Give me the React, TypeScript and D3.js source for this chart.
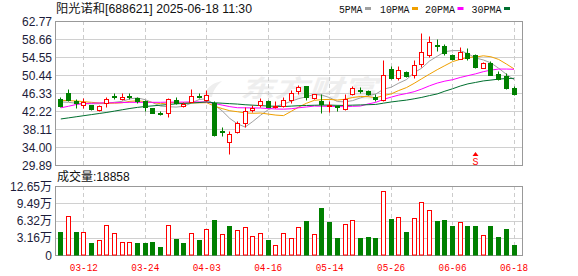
import React from 'react';
import * as d3 from 'd3';

const W = 578;
const H = 276;

const opens = [45.0,46.3,44.4,43.69,43.53,42.47,44.08,45.55,44.91,45.7, 45.14,44.45,43.0,41.8,41.85,44.84,43.4,44.31,45.7,44.77, 44.08,37.6,35.25,37.48,39.39,42.54,43.62,44.61,43.1,43.46, 44.84,46.84,47.83,45.23,44.61,43.3,43.25,42.66,45.99,47.1, 46.84,45.5,44.77,51.9,49.83,51.05,50.52,53.05,55.12,57.3, 57.09,55.12,54.1,55.35,54.95,52.13,53.2,50.66,50.2,47.53];
const closes = [43.3,44.84,44.0,44.38,42.77,43.46,45.07,45.4,45.46,45.6, 44.45,43.07,41.85,41.65,45.0,43.99,43.9,45.69,45.6,45.92, 36.63,37.5,36.95,39.39,42.31,43.0,44.61,43.23,43.3,44.77, 46.38,47.6,45.37,45.99,43.92,43.5,43.15,44.95,47.44,47.0, 46.15,44.9,50.36,49.83,51.67,50.2,52.82,55.58,57.87,57.1, 55.48,54.03,55.58,54.33,52.2,53.28,50.52,49.6,47.44,45.99];
const highs = [45.5,47.14,45.07,45.23,43.69,43.6,45.53,46.38,46.29,46.4, 45.4,44.8,43.0,42.3,45.2,45.46,44.3,47.14,46.3,47.07, 44.45,38.63,37.71,40.01,43.07,43.6,45.1,44.8,44.61,45.5, 46.91,48.13,47.9,46.2,46.15,44.61,43.7,46.2,47.83,47.6, 47.1,46.0,53.8,52.5,52.4,51.3,53.87,60.01,59.25,58.56, 57.5,55.3,56.79,56.5,55.2,53.4,53.6,51.35,50.8,47.83];
const lows = [43.1,44.6,43.0,42.93,42.47,42.3,43.23,44.85,44.84,45.0, 44.0,42.2,41.7,41.3,40.77,43.9,43.2,44.2,45.2,44.6, 36.5,36.49,32.49,37.3,38.63,42.0,43.07,43.1,42.8,43.2, 44.08,46.15,44.77,44.9,41.69,41.92,42.3,42.5,45.9,46.3, 45.8,44.5,44.6,49.5,49.2,50.0,49.73,52.27,54.6,55.87, 54.95,53.9,54.0,53.8,52.1,52.0,50.4,49.4,47.3,45.8];
// volume in 万
const volumes = [4.2,7.1,4.2,4.15,2.2,2.7,5.45,4.0,2.3,2.3, 2.2,2.2,2.4,1.47,5.45,2.9,2.2,4.0,2.75,4.7, 6.4,3.8,5.3,4.5,5.1,3.4,4.0,2.75,1.8,4.0, 3.2,5.1,6.2,3.8,8.6,6.05,3.1,5.6,6.35,3.1, 3.3,3.1,11.7,6.6,6.9,4.2,6.7,9.65,8.2,6.2, 6.4,5.3,6.0,5.3,5.3,3.6,5.3,3.3,4.75,1.89];
const prevClose0 = 44.0;

// moving-average values before enough bars exist
const ma5Lead = [44.3, 44.2, 44.0, 43.9];
const ma10Lead = [44.65, 44.6, 44.5, 44.35, 44.2, 44.05, 44.0, 44.0, 44.1];
const ma20Lead = [42.95, 43.3, 43.7, 43.9, 44.0, 44.05, 44.1, 44.1, 44.15, 44.2, 44.2, 44.2, 44.2, 44.2, 44.25, 44.25, 44.25, 44.3, 44.3];
const ma30Lead = [40.4, 40.65, 40.9, 41.15, 41.4, 41.65, 41.9, 42.2, 42.5, 42.8, 43.05, 43.25, 43.4, 43.55, 43.7, 43.85, 43.95, 44.05, 44.15, 44.3, 44.1, 44.0, 43.9, 43.8, 43.65, 43.55, 43.45, 43.35, 43.3];

const priceTicks = [62.77, 58.66, 54.55, 50.44, 46.33, 42.22, 38.11, 34.0, 29.89];
const volTicks = [0, 3.16, 6.32, 9.49, 12.65];
const volTickLabels = ['0', '3.16万', '6.32万', '9.49万', '12.65万'];
const dateLabels = ['03-12', '03-24', '04-03', '04-16', '05-14', '05-26', '06-06', '06-18'];
const dateLabelIdx = [3, 11, 19, 27, 35, 43, 51, 59];
const maNames = ['5PMA', '10PMA', '20PMA', '30PMA'];
const maColors = ['#a0a0a0', '#f0a000', '#ff00ff', '#006f2f'];
const signalIdx = 54;
const title = '阳光诺和[688621] 2025-06-18 11:30';
const volTitle = '成交量:18858';
const watermark = '东方财富';

const RED = '#ff0000';
const GREEN = '#008000';

function movingAvg(n: number, lead: number[]) {
  return closes.map((c, i) => (i < n - 1 ? lead[i] : (d3.mean(closes.slice(i - n + 1, i + 1)) as number)));
}

export default function App() {
  const L = 55, R = 522;
  const x = d3.scaleLinear().domain([0, closes.length - 1]).range([60.3, 513.5]);
  const y = d3.scaleLinear().domain([29.89, 62.77]).range([165, 21]);
  const yv = d3.scaleLinear().domain([0, 12.65]).range([255, 186]);
  const px = (i: number) => Math.round(x(i));
  const py = (v: number) => Math.round(y(v)) + 0.5;

  const mas = [movingAvg(5, ma5Lead), movingAvg(10, ma10Lead), movingAvg(20, ma20Lead), movingAvg(30, ma30Lead)];
  const line = d3.line<number>().x((d, i) => x(i) + 0.5).y((d) => y(d));

  const sans = '"Liberation Sans", Arial, "Noto Sans CJK SC", sans-serif';
  const mono = '"Liberation Mono", "DejaVu Sans Mono", monospace';

  const legendX = [339, 380, 425, 471.5];
  const legendW = [23.5, 29.5, 30, 30];

  return (
    <div>
      <style>{'body{margin:0}'}</style>
      <svg width={W} height={H} style={{ display: 'block', background: '#fff' }}>
        {/* watermark */}
        <g fill="#eeeeee">
          <path d="M203,97 C206,88 212,83 222,81 C216,86 213,91 212,97 Z" />
          <text x={240} y={97} fontSize={24} fontWeight="bold" fontStyle="italic" fontFamily='"Noto Sans CJK SC", sans-serif' textLength={137} lengthAdjust="spacingAndGlyphs">{watermark}</text>
        </g>

        {/* price grid */}
        {priceTicks.map((t, k) => (
          <line key={'pg' + k} x1={L} x2={R} y1={py(t)} y2={py(t)} stroke="#d0d0d0" strokeWidth={1} />
        ))}
        {dateLabelIdx.map((d, k) => (
          <line key={'pv' + k} x1={px(d) + 0.5} x2={px(d) + 0.5} y1={21} y2={165} stroke="#cccccc" strokeDasharray="4,3" />
        ))}
        {/* volume grid */}
        {volTicks.map((t, k) => (
          <line key={'vg' + k} x1={L} x2={R} y1={Math.round(yv(t)) + 0.5} y2={Math.round(yv(t)) + 0.5} stroke="#d0d0d0" />
        ))}
        {dateLabelIdx.map((d, k) => (
          <line key={'vv' + k} x1={px(d) + 0.5} x2={px(d) + 0.5} y1={186} y2={255} stroke="#cccccc" strokeDasharray="4,3" />
        ))}

        {/* borders */}
        <rect x={L + 0.5} y={21.5} width={R - L} height={144} fill="none" stroke="#999" />
        <rect x={L + 0.5} y={186.5} width={R - L} height={69} fill="none" stroke="#999" />

        {/* MA lines */}
        {mas.map((m, k) => (
          <path key={'ma' + k} d={line(m) || ''} fill="none" stroke={maColors[k]} strokeWidth={1} />
        ))}

        {/* candles */}
        {closes.map((c, i) => {
          const o = opens[i];
          const up = c >= o;
          const cx = px(i);
          const top = py(Math.max(o, c));
          let bot = py(Math.min(o, c));
          if (bot - top < 1) bot = top + 1;
          if (up) {
            return (
              <g key={'c' + i} stroke={RED} fill="none">
                <line x1={cx + 0.5} x2={cx + 0.5} y1={py(highs[i])} y2={top} />
                <line x1={cx + 0.5} x2={cx + 0.5} y1={bot} y2={py(lows[i])} />
                <rect x={cx - 1.5} y={top} width={4} height={bot - top} fill="#fff" />
              </g>
            );
          }
          return (
            <g key={'c' + i}>
              <line x1={cx + 0.5} x2={cx + 0.5} y1={py(highs[i])} y2={py(lows[i])} stroke={GREEN} />
              <rect x={cx - 2} y={top - 0.5} width={5} height={Math.max(1, bot - top + 1)} fill={GREEN} />
            </g>
          );
        })}

        {/* signal marker */}
        <g fill={RED}>
          <path d={`M${px(signalIdx) + 0.5},${152} l-3,4 l6,0 z`} />
          <text x={px(signalIdx) + 0.5} y={165} fontSize={10} textAnchor="middle" fontFamily={mono}>S</text>
        </g>

        {/* volume bars */}
        {volumes.map((v, i) => {
          const prev = i === 0 ? prevClose0 : closes[i - 1];
          const up = closes[i] >= prev;
          const cx = px(i);
          const top = Math.round(yv(v)) + 0.5;
          if (up) {
            return <rect key={'v' + i} x={cx - 1.5} y={top} width={4} height={255 - top} fill="#fff" stroke={RED} />;
          }
          return <rect key={'v' + i} x={cx - 2} y={top - 0.5} width={5} height={255.5 - top + 0.5} fill={GREEN} />;
        })}

        {/* price axis labels */}
        {priceTicks.map((t, k) => (
          <text key={'pl' + k} x={52} y={y(t) + 4.5} fontSize={12} textAnchor="end" fill="#1c1c3a" fontFamily={sans}>{t.toFixed(2)}</text>
        ))}
        {volTicks.map((t, k) => (
          <text key={'vl' + k} x={52} y={yv(t) + 4.5} fontSize={12} textAnchor="end" fill="#1c1c3a" fontFamily={sans}>{volTickLabels[k]}</text>
        ))}

        {/* date labels */}
        {dateLabels.map((d, k) => (
          <text key={'dl' + k} x={x(dateLabelIdx[k]) + 0.5} y={271} fontSize={11} textAnchor="middle" fill={RED} fontFamily={mono} textLength={28} lengthAdjust="spacingAndGlyphs">{d}</text>
        ))}

        {/* titles */}
        <text x={56} y={13} fontSize={12} fill="#111" fontFamily={sans} textLength={196} lengthAdjust="spacingAndGlyphs">{title}</text>
        <text x={57} y={181} fontSize={12} fill="#111" fontFamily={sans}>{volTitle}</text>

        {/* legend */}
        {maNames.map((n, k) => (
          <g key={'lg' + k}>
            <text x={legendX[k]} y={12.5} fontSize={11} fill="#111" fontFamily={mono} textLength={legendW[k]} lengthAdjust="spacingAndGlyphs">{n}</text>
            <rect x={legendX[k] + legendW[k] + 2.5} y={7} width={6} height={3} fill={maColors[k]} />
          </g>
        ))}
      </svg>
    </div>
  );
}
